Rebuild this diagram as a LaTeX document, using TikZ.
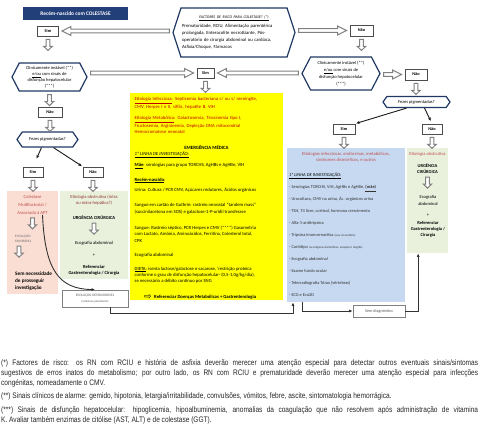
\documentclass[tikz,border=0pt]{standalone}
\usepackage{fontspec}
\setmainfont{Carlito}
\newfontfamily\notefont[FakeStretch=0.82]{Liberation Sans}
\newfontfamily\arrowfont{DejaVu Sans}
\usetikzlibrary{calc,positioning,arrows.meta,shapes.symbols}

\definecolor{navy}{RGB}{31,56,100}
\definecolor{titblue}{RGB}{35,63,122}
\definecolor{ylw}{RGB}{255,255,0}
\definecolor{lblue}{RGB}{198,217,241}
\definecolor{lgreen}{RGB}{233,241,221}
\definecolor{peach}{RGB}{250,222,211}
\definecolor{dred}{RGB}{192,0,0}
\definecolor{bred}{RGB}{192,80,77}
\definecolor{maroon}{RGB}{149,55,53}

\begin{document}
\begin{tikzpicture}[x=1pt, y=-1pt,
  every node/.style={inner sep=0pt},
  txt/.style={anchor=north west, align=left, font=\fontsize{4.7}{6}\selectfont},
  ctxt/.style={align=center, font=\fontsize{4.6}{6}\selectfont},
  hexa/.style={signal, signal to=west and east, draw=navy, line width=1.2pt, fill=white, align=center, inner sep=1pt, font=\fontsize{4.5}{5.8}\selectfont},
  yn/.style={draw=black!70, line width=.8pt, fill=white, minimum width=21pt, minimum height=10pt, font=\bfseries\fontsize{4.3}{5}\selectfont},
  panel/.style={anchor=north west},
  smallbox/.style={draw=black!50, line width=.8pt, fill=white, align=center, text=black!65},
  harrow/.style={draw=black!50, fill=white, line width=1pt,
    to path={let \p1=(\tikztostart), \p2=(\tikztotarget), \n1={ifthenelse(\x2>\x1,1,-1)} in
      ({\x1+(\n1)*3pt},{\y2+1.8pt}) -- ({\x2-(\n1)*12pt},{\y2+1.8pt}) -- ({\x2-(\n1)*12pt},{\y2+4.5pt})
      -- ({\x2-(\n1)*3pt},\y2) -- ({\x2-(\n1)*12pt},{\y2-4.5pt}) -- ({\x2-(\n1)*12pt},{\y2-1.8pt})
      -- ({\x1+(\n1)*3pt},{\y2-1.8pt}) -- cycle}},
  varrow/.style={draw=black!50, fill=white, line width=1pt,
    to path={([xshift=-1.8pt,yshift=-3pt]\tikztostart) -- ++(0,7) -- ++(-2.4,0) -- ++(4.2,4)
      -- ++(4.2,-4) -- ++(-2.4,0) -- ++(0,-7) -- cycle}},
  conn/.style={draw=black!80, line width=.9pt, -{Latex[length=3.5pt,width=3pt]}},
  thinarr/.style={draw=black!90, line width=.9pt, shorten >=1pt, -{Stealth[length=3.5pt,width=3pt]}}
]
\useasboundingbox (0,0) rectangle (480,429);

% top of the chart
\node[fill=titblue, text=white, font=\bfseries\fontsize{5.4}{6}\selectfont, minimum width=105pt, minimum height=13pt] (rn) at (75.5,13.5) {Recém-nascido com COLESTASE};
\node[hexa, signal pointer angle=144, minimum width=122pt, minimum height=49pt, text width=104pt, align=left, font=\fontsize{4.7}{7}\selectfont] (risco) at (234,32.5)
  {\makebox[104pt]{\fontsize{3.9}{5}\selectfont\underline{\textit{FACTORES DE RISCO PARA COLESTASE? (*)}}}\\[2.5pt]
   Prematuridade, RCIU, Alimentação parentérica\\prolongada, Enterocolite necrotizante, Pós-\\operatório de cirurgia abdominal ou cardíaca,\\Asfixia/Choque, Fármacos};
\node[yn] (sim1) at (48,31) {Sim};
\node[yn, minimum width=23pt, minimum height=11pt] (nao1) at (361.5,30.5) {Não};

\node[hexa, signal pointer angle=125, minimum width=75pt, minimum height=28pt] (instA) at (49.5,77)
  {Clinicamente instável (**)\\\underline{e/ou} com sinais de\\disfunção hepatocelular\\(***)};
\node[hexa, signal pointer angle=125, minimum width=78pt, minimum height=33pt, font=\fontsize{4.5}{7}\selectfont] (instB) at (341,73.5)
  {Clinicamente instável (**)\\\underline{e/ou} com sinais de\\disfunção hepatocelular\\(***)};
\node[yn, minimum width=17pt] (sim2) at (205.5,73) {Sim};
\node[yn, minimum width=22pt, minimum height=11pt] (nao2) at (416,74.5) {Não};
\node[yn, minimum width=24pt] (nao3) at (50,112) {Não};
\node[hexa, signal pointer angle=110, minimum width=61pt, minimum height=15pt] (fezA) at (47.5,139.5) {Fezes pigmentadas?};
\node[hexa, signal pointer angle=110, minimum width=67pt, minimum height=11pt] (fezB) at (416.5,102) {Fezes pigmentadas?};
\node[yn, minimum width=20pt] (sim4) at (33,172) {Sim};
\node[yn, minimum width=20pt] (nao4) at (93,172) {Não};
\node[yn, minimum width=22pt] (sim5) at (344,129) {Sim};
\node[yn, minimum width=20pt] (nao5) at (432,129) {Não};

% coloured panels
\node[panel, fill=ylw, minimum width=153pt, minimum height=207pt] (yel) at (130,93) {};
\node[panel, fill=lblue, minimum width=118pt, minimum height=154pt] (blu) at (287,148) {};
\node[panel, fill=lgreen, minimum width=41pt, minimum height=105pt] (grnB) at (407,148) {};
\node[panel, fill=peach, minimum width=51pt, minimum height=103pt] (pch) at (7,191) {};
\node[panel, fill=lgreen, minimum width=68pt, minimum height=88pt] (grnA) at (60,191) {};

% yellow panel
\node[txt, text width=148pt, text=dred] (yinf) at (134.5,97.5) {\underline{Etiologia Infecciosa}: Septicemia bacteriana c/ ou s/ meningite,\\CMV, Herpes I e II, sífilis, hepatite B, VIH};
\node[txt, text width=148pt, text=dred] (ymet) at (134.5,116.5) {\underline{Etiologia Metabólica}: Galactosemia, Tirosinemia tipo I,\\Fructosemia, Argininemia, Depleção DNA mitocondrial\\Hemocromatose neonatal};
\node[ctxt, font=\bfseries\fontsize{4.8}{6}\selectfont] (emerg) at (206.5,147) {EMERGÊNCIA MÉDICA};
\node[txt] (ylin) at (134.5,151.5) {\underline{\textit{1ª LINHA DE INVESTIGAÇÃO:}}};
\node[txt] (ymae) at (134.5,163.5) {\underline{\textbf{Mãe}}: serologias para grupo TORCHS, AgHBs e AgHBe, VIH};
\node[txt] (yrn) at (134.5,177.5) {\underline{\textbf{Recém-nascido}}:};
\node[txt] (yuri) at (134.5,187.5) {Urina: Cultura / PCR CMV, Açúcares redutores, Ácidos orgânicos};
\node[txt, font=\fontsize{4.7}{7}\selectfont] (ygut) at (134.5,202.5) {Sangue em cartão de Guthrie: rastreio neonatal “tandem mass”\\(succinilacetona em SOS) e galactose-1-P-uridil transferase};
\node[txt, font=\fontsize{4.7}{6.5}\selectfont] (ysan) at (134.5,225.5) {Sangue: Rastreio séptico, PCR Herpes e CMV (****) Gasometria\\com Lactato, Amónia, Aminoácidos, Ferritina, Colesterol total,\\CPK};
\node[txt] (yeco) at (134.5,253.5) {Ecografia abdominal};
\node[txt] (ydie) at (134.5,266.5) {\underline{DIETA}: isenta lactose/galactose e sacarose, ’restrição proteica\\conforme o grau de disfunção hepatocelular- (0,5-1,0g/kg/dia),\\se necessário a débito contínuo por SNG};
\node[font=\arrowfont\fontsize{9}{9}\selectfont] (mao) at (148,297) {⇨};
\node[anchor=west, font=\bfseries\fontsize{4.7}{6}\selectfont, right=2pt of mao] (yref) {Referenciar Doenças Metabólicas + Gastrenterologia};

% blue panel
\node[ctxt, text=bred, font=\fontsize{4.6}{6}\selectfont] (bhead) at (346,157.5) {Etiologias infecciosas, endócrinas, metabólicas,\\síndromes dismórficos, e outros};
\node[txt, font=\fontsize{4.5}{6}\selectfont] (blin) at (289,172.5) {\underline{\textit{1ª LINHA DE INVESTIGAÇÃO:}}};
\node[txt, text=black!80, font=\fontsize{4.4}{11.9}\selectfont] (blist) at (289,185.5)
  {- Serologias TORCHS, VIH, AgHBs e AgHBe, \underline{\textbf{(mãe)}}\\
   - Urocultura, CMV na urina, Ác. orgânicos urina\\
   - TSH, T4 livre, cortisol, hormona crescimento\\
   - Alfa-1-antitripsina\\
   - Tripsina imunorreactiva {\fontsize{3}{4}\selectfont(suor do Guthrie)}\\
   - Cariótipo {\fontsize{3}{4}\selectfont(se estigmas dismórficos, excepto S. alagille)}\\
   - Ecografia abdominal\\
   - Exame fundo ocular\\
   - Telerradiografia Tórax (vértebras)\\
   - ECG e Eco2D};

% right green panel
\node[ctxt, text=bred] (obsB) at (427.5,154) {Etiologia obstrutiva};
\node[ctxt, font=\bfseries\fontsize{4.5}{6}\selectfont] (urgB) at (427.5,169) {URGÊNCIA\\CIRÚRGICA};
\node[ctxt, font=\fontsize{4.5}{7}\selectfont] (ecoB) at (428,200.5) {Ecografia\\abdominal};
\node[ctxt] (plusB) at (428,215) {+};
\node[ctxt, font=\bfseries\fontsize{4.5}{6}\selectfont] (refB) at (428,229) {Referenciar\\Gastrenterologia /\\Cirurgia};

% peach panel
\node[ctxt, text=bred, font=\fontsize{4.6}{8}\selectfont] (colA) at (32.5,205) {Colestase\\Multifactorial /\\Associada à APT};
\node[txt, text=black!60, font=\fontsize{3.4}{5}\selectfont] (evolA) at (15,235) {EVOLUÇÃO\\FAVORÁVEL};
\node[txt, font=\bfseries\fontsize{5.2}{7}\selectfont] (semA) at (15,272) {Sem necessidade\\de prosseguir\\investigação};

% left green panel
\node[ctxt, text=maroon] (obsA) at (94,200) {Etiologia obstrutiva (intra\\ou extra-hepática?)};
\node[ctxt, font=\bfseries\fontsize{4.6}{6}\selectfont] (urgA) at (94,218) {URGÊNCIA CIRÚRGICA};
\node[ctxt] (ecoA) at (94,243) {Ecografia abdominal};
\node[ctxt] (plusA) at (94,255) {+};
\node[ctxt, font=\bfseries\fontsize{4.6}{6}\selectfont] (refA) at (94,270) {Referenciar\\Gastrenterologia / Cirurgia};

% bottom boxes
\node[smallbox, minimum width=66pt, minimum height=17pt, font=\fontsize{3.5}{6}\selectfont] (evD) at (95,298.5) {EVOLUÇÃO DESFAVORÁVEL\\{\fontsize{3}{4}\selectfont(colestase persistente)}};
\node[smallbox, minimum width=52pt, minimum height=12pt, font=\fontsize{4.2}{5}\selectfont] (semD) at (379,311) {Sem diagnóstico};

% block arrows
\draw[harrow] (risco.west) to (sim1.east);
\draw[harrow] (risco.east) to (nao1.west);
\draw[harrow] (instA.east) to (sim2.west);
\draw[harrow] (instB.west) to (sim2.east);
\draw[harrow] (instB.east) to (nao2.west);
\draw[varrow] (sim1.south) to (instA.north);
\draw[varrow] (nao1.south) to (instB.north);
\draw[varrow] (instA.south) to (nao3.north);
\draw[varrow] (nao3.south) to (fezA.north);
\draw[varrow] (sim2.south) to (yel.north);
\draw[varrow] (nao2.south) to (fezB.north);
\draw[varrow] (sim4.south) to (pch.north);
\draw[varrow] (nao4.south) to (grnA.north);
\draw[varrow] (sim5.south) to (blu.north);
\draw[varrow] (nao5.south) to (grnB.north);
\draw[varrow] (colA.south) to (evolA.north);
\draw[varrow] ([xshift=4pt]evolA.south west) to (semA.north);
\draw[varrow] (urgA.south) to (ecoA.north);
\draw[varrow] (urgB.south) to (ecoB.north);

% thin arrows out of the stool question
\draw[thinarr, shorten >=9pt] ([xshift=-6pt]fezA.south) -- (sim4.north);
\draw[thinarr] ([xshift=6pt]fezA.south) -- (nao4.north west);
\draw[thinarr] ([xshift=-10pt]fezB.south) -- (sim5.north east);
\draw[thinarr, shorten >=3pt] ([xshift=8pt]fezB.south) -- (nao5.north);

% connectors at the bottom
\coordinate (c1) at (293,313);
\coordinate (c2) at (302,311);
\draw[conn] ([xshift=10pt]colA.south) .. controls (45,272) and (60,289) .. (evD.north);
\draw[conn] ([xshift=15pt]evD.south) |- (c1) -- (c1 |- blu.south);
\draw[conn] (c2 |- blu.south) -- (c2) -- (semD);
\draw[conn] (semD.east) -| ([xshift=-9.5pt]grnB.south);

% notes
\node[anchor=north west, text width=477pt, align=justify, text=black!85, font=\notefont\fontsize{8}{10}\selectfont] (notas) at (1,359.5)
  {\hyphenpenalty=10000 \parskip=3.3pt
   (*) Factores de risco: os RN com RCIU e história de asfixia deverão merecer uma atenção especial para detectar outros eventuais sinais/sintomas\linebreak
   sugestivos de erros inatos do metabolismo; por outro lado, os RN com RCIU e prematuridade deverão merecer uma atenção especial para infecções\linebreak
   congénitas, nomeadamente o CMV.\par
   (**) Sinais clínicos de alarme: gemido, hipotonia, letargia/irritabilidade, convulsões, vómitos, febre, ascite, sintomatologia hemorrágica.\par
   (***) Sinais de disfunção hepatocelular: hipoglicemia, hipoalbuminemia, anomalias da coagulação que não resolvem após administração de vitamina\linebreak
   K. Avaliar também enzimas de citólise (AST, ALT) e de colestase (GGT).};
\end{tikzpicture}
\end{document}
